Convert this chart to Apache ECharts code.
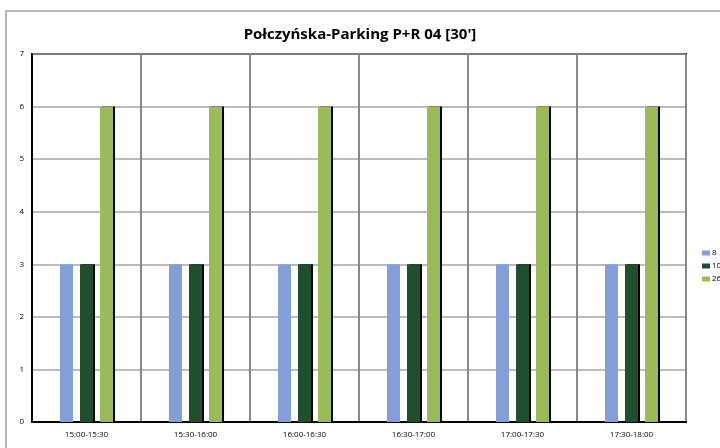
<!DOCTYPE html>
<html>
<head>
<meta charset="utf-8">
<script src="https://cdn.jsdelivr.net/npm/echarts@6/dist/echarts.min.js"></script>
<style>
  html, body { margin: 0; padding: 0; background: #fff; }
  #chart { width: 720px; height: 448px; }
</style>
</head>
<body>
<div id="chart"></div>
<script>
const categories = ['15:00-15:30', '15:30-16:00', '16:00-16:30', '16:30-17:00', '17:00-17:30', '17:30-18:00'];
const seriesNames = ['8', '10', '26'];
const values8 = [3, 3, 3, 3, 3, 3];
const values10 = [3, 3, 3, 3, 3, 3];
const values26 = [6, 6, 6, 6, 6, 6];

const chart = echarts.init(document.getElementById('chart'));

const barStyle = (color, shadow) => ({
  color,
  shadowColor: shadow ? '#000' : 'rgba(0,0,0,0)',
  shadowOffsetX: shadow ? 2 : 0,
  shadowOffsetY: 0,
  shadowBlur: 0,
});

chart.setOption({
  animation: false,
  textStyle: { fontFamily: 'Open Sans' },
  graphic: [{
    type: 'rect',
    shape: { x: 6, y: 11, width: 720, height: 440 },
    style: { fill: 'none', stroke: '#a0a0a0', lineWidth: 1.5 },
    silent: true,
  }],
  title: {
    text: 'Połczyńska-Parking P+R 04 [30\']',
    left: 'center',
    top: 22,
    textStyle: { fontSize: 15, fontWeight: 'bold', color: '#000', fontFamily: 'Open Sans' },
  },
  legend: {
    orient: 'vertical',
    left: 697,
    top: 244,
    itemWidth: 8,
    itemHeight: 5,
    itemGap: 5,
    icon: 'rect',
    textStyle: { fontSize: 8, color: '#000', padding: [0, 0, 0, -3] },
    data: seriesNames,
  },
  grid: {
    left: 32,
    right: 34,
    top: 54,
    bottom: 26,
    show: true,
    borderColor: '#000',
    borderWidth: 2,
  },
  xAxis: {
    type: 'category',
    data: categories,
    axisLine: { lineStyle: { color: '#000', width: 2 } },
    axisTick: { show: false },
    axisLabel: { fontSize: 8, color: '#000', margin: 9 },
    splitLine: { show: true, lineStyle: { color: '#888', width: 2 } },
  },
  yAxis: {
    type: 'value',
    min: 0,
    max: 7,
    interval: 1,
    axisLine: { show: true, lineStyle: { color: '#000', width: 2 } },
    axisTick: { show: false },
    axisLabel: { fontSize: 8, color: '#000', margin: 8 },
    splitLine: { lineStyle: { color: '#a6a6a6', width: 1.5 } },
  },
  series: [
    {
      name: seriesNames[0],
      type: 'bar',
      data: values8,
      barWidth: 13,
      barGap: '54%',
      itemStyle: barStyle('#829fd8', false),
    },
    {
      name: seriesNames[1],
      type: 'bar',
      data: values10,
      barWidth: 13,
      barGap: '54%',
      itemStyle: barStyle('#1f4f2c', true),
    },
    {
      name: seriesNames[2],
      type: 'bar',
      data: values26,
      barWidth: 13,
      barGap: '54%',
      itemStyle: barStyle('#9bbb59', true),
    },
  ],
});
</script>
</body>
</html>
